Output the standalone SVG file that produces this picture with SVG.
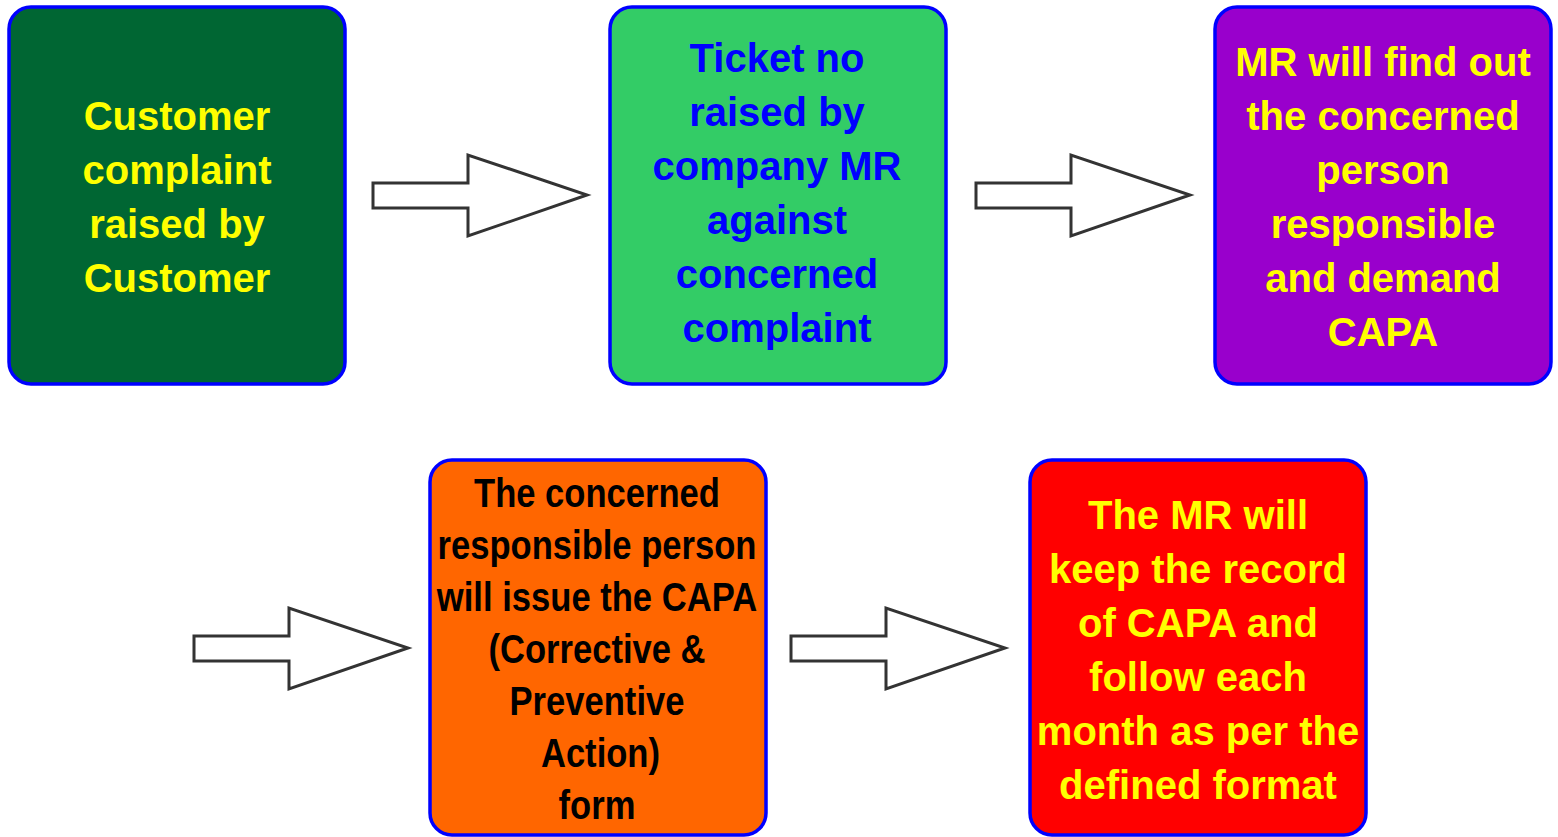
<svg xmlns="http://www.w3.org/2000/svg" width="1558" height="837" viewBox="0 0 1558 837">
<style>
.box{stroke:#0000FF;stroke-width:3.5}
.t{font-family:"Liberation Sans",Arial,sans-serif;font-weight:bold;font-size:40px;text-anchor:middle}
.y{fill:#FFFF00}
.b{fill:#0000FF}
.k{fill:#000000}
.arr{fill:#FFFFFF;stroke:#333333;stroke-width:3;stroke-linejoin:miter}
</style>
<rect width="1558" height="837" fill="#FFFFFF"/>
<g id="node1">
<rect class="box" x="9" y="7" width="336" height="377" rx="22" fill="#006633"/>
<text class="t y"><tspan x="177" y="130">Customer</tspan><tspan x="177" y="184">complaint</tspan><tspan x="177" y="238">raised by</tspan><tspan x="177" y="292">Customer</tspan></text>
</g>
<g id="node2">
<rect class="box" x="610" y="7" width="336" height="377" rx="22" fill="#33CC66"/>
<text class="t b"><tspan x="777" y="72">Ticket no</tspan><tspan x="777" y="126">raised by</tspan><tspan x="777" y="180">company MR</tspan><tspan x="777" y="234">against</tspan><tspan x="777" y="288">concerned</tspan><tspan x="777" y="342">complaint</tspan></text>
</g>
<g id="node3">
<rect class="box" x="1215" y="7" width="336" height="377" rx="22" fill="#9900CC"/>
<text class="t y"><tspan x="1383" y="76">MR will find out</tspan><tspan x="1383" y="130">the concerned</tspan><tspan x="1383" y="184">person</tspan><tspan x="1383" y="238">responsible</tspan><tspan x="1383" y="292">and demand</tspan><tspan x="1383" y="346">CAPA</tspan></text>
</g>
<g id="node4">
<rect class="box" x="430" y="460" width="336" height="375" rx="22" fill="#FF6600"/>
<g transform="translate(597 0) scale(0.865 1) translate(-597 0)">
<text class="t k"><tspan x="597" y="507">The concerned</tspan><tspan x="597" y="559">responsible person</tspan><tspan x="597" y="611">will issue the CAPA</tspan><tspan x="597" y="663">(Corrective &amp;</tspan><tspan x="597" y="715">Preventive</tspan><tspan x="601" y="767">Action)</tspan><tspan x="597" y="819">form</tspan></text>
</g>
</g>
<g id="node5">
<rect class="box" x="1030" y="460" width="336" height="375" rx="22" fill="#FF0000"/>
<text class="t y"><tspan x="1198" y="529">The MR will</tspan><tspan x="1198" y="583">keep the record</tspan><tspan x="1198" y="637">of CAPA and</tspan><tspan x="1198" y="691">follow each</tspan><tspan x="1198" y="745">month as per the</tspan><tspan x="1198" y="799">defined format</tspan></text>
</g>
<g id="connectors">
<path class="arr" d="M373 183 H468 V155 L587 195 L468 236 V208 H373 Z"/>
<path class="arr" d="M976 183 H1071 V155 L1190 195 L1071 236 V208 H976 Z"/>
<path class="arr" d="M194 636 H289 V608 L408 648 L289 689 V661 H194 Z"/>
<path class="arr" d="M791 636 H886 V608 L1005 648 L886 689 V661 H791 Z"/>
</g>
</svg>
